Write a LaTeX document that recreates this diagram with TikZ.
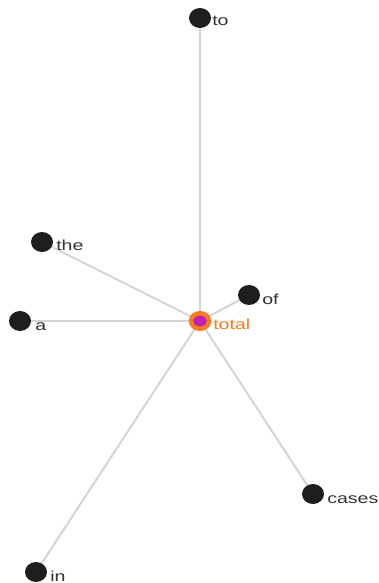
\documentclass[tikz,border=0pt]{standalone}
\usepackage{fontspec}
\setmainfont{Liberation Sans}
\usetikzlibrary{shapes.geometric,backgrounds}
\definecolor{edgegray}{HTML}{D4D4D4}
\definecolor{dotdark}{HTML}{1E1E1E}
\definecolor{labelgray}{HTML}{333333}
\definecolor{ringorange}{HTML}{F57C22}
\definecolor{centermag}{HTML}{C21DB8}
\tikzset{
  wordnode/.style={ellipse, fill=dotdark, minimum width=22pt, minimum height=20pt, inner sep=0pt},
  wordlabel/.style={anchor=base west, inner sep=0pt, text=labelgray, font=\fontsize{14.5}{16}\selectfont, xscale=1.35},
  edgeline/.style={draw=edgegray, line width=2pt},
}
\begin{document}
\begin{tikzpicture}[x=1pt, y=-1pt]
\useasboundingbox (0,0) rectangle (379,583);
% center node
\node[ellipse, draw=ringorange, line width=4.5pt, fill=centermag, minimum width=18pt, minimum height=15.5pt, inner sep=0pt] (total) at (200,321) {};
\node[wordlabel, text=ringorange] (totall) at (213,329) {total};
% word nodes
\node[wordnode] (to) at (200,18) {};
\node[wordlabel] (tol) at (212,26) {to};
\node[wordnode] (the) at (42,242) {};
\node[wordlabel] (thel) at (56,250) {the};
\node[wordnode] (a) at (20,321) {};
\node[wordlabel] (al) at (35,330) {a};
\node[wordnode] (of) at (249,295) {};
\node[wordlabel] (ofl) at (262,304) {of};
\node[wordnode] (cases) at (313,494) {};
\node[wordlabel] (casesl) at (327,503) {cases};
\node[wordnode] (in) at (36,572) {};
\node[wordlabel] (inl) at (50,581) {in};
\begin{pgfonlayer}{background}
\draw[edgeline] (total.center) -- (to.center);
\draw[edgeline] (total.center) -- (the.center);
\draw[edgeline] (total.center) -- (a.center);
\draw[edgeline] (total.center) -- (of.center);
\draw[edgeline] (total.center) -- (cases.center);
\draw[edgeline] (total.center) -- (in.center);
\end{pgfonlayer}
\end{tikzpicture}
\end{document}
